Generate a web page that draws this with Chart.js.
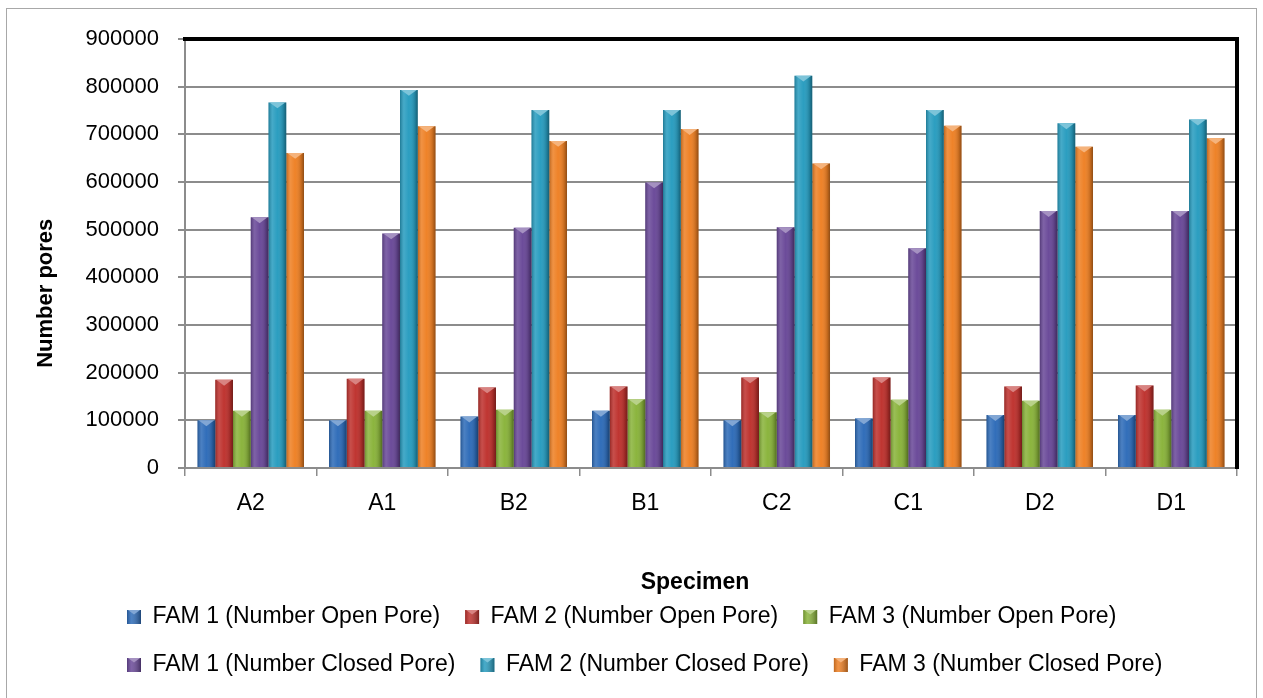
<!DOCTYPE html>
<html>
<head>
<meta charset="utf-8">
<script src="https://cdn.jsdelivr.net/npm/chart.js@4.4.1/dist/chart.umd.min.js"></script>
<style>
  html, body { margin: 0; padding: 0; background: #fff; }
  body { width: 1263px; height: 698px; position: relative; overflow: hidden; }
  #frame { position: absolute; left: 6px; top: 8px; width: 1251px; height: 700px;
           border: 1.5px solid #a8a8a8; box-sizing: border-box; }
  #chart { position: absolute; left: 0; top: 0; }
</style>
</head>
<body>
<div id="frame"></div>
<canvas id="chart" width="1263" height="698"></canvas>
<script>
// Specimens along the x axis
const specimens = ['A2', 'A1', 'B2', 'B1', 'C2', 'C1', 'D2', 'D1'];

// Pore counts per specimen
const fam1Open   = [100000, 100000, 108000, 120000, 100000, 104000, 111000, 111000];
const fam2Open   = [185000, 187000, 169000, 171000, 190000, 190000, 171000, 173000];
const fam3Open   = [120000, 120000, 122000, 144000, 117000, 143000, 141000, 122000];
const fam1Closed = [526000, 492000, 504000, 599000, 505000, 461000, 539000, 539000];
const fam2Closed = [767000, 793000, 751000, 751000, 823000, 751000, 723000, 731000];
const fam3Closed = [661000, 717000, 686000, 711000, 639000, 718000, 674000, 692000];

// Series names and colours
const seriesNames = [
  'FAM 1 (Number Open Pore)', 'FAM 2 (Number Open Pore)', 'FAM 3 (Number Open Pore)',
  'FAM 1 (Number Closed Pore)', 'FAM 2 (Number Closed Pore)', 'FAM 3 (Number Closed Pore)'
];
const seriesColors = ['#2d6bb8', '#be312d', '#89b33a', '#694898', '#279cbf', '#ee8024'];

// Value-axis ticks
const yTickValues = [0, 100000, 200000, 300000, 400000, 500000, 600000, 700000, 800000, 900000];

const seriesValues = [fam1Open, fam2Open, fam3Open, fam1Closed, fam2Closed, fam3Closed];

function lighten(hex, t) {
  const n = parseInt(hex.slice(1), 16);
  const r = (n >> 16) & 255, g = (n >> 8) & 255, b = n & 255;
  const m = c => Math.round(c + (255 - c) * t);
  return `rgb(${m(r)},${m(g)},${m(b)})`;
}

// Cylinder-like shading and a light bevel cap on every bar and legend swatch
const barShading = {
  id: 'barShading',
  afterDatasetsDraw(chart) {
    const ctx = chart.ctx;
    ctx.save();
    chart.data.datasets.forEach((ds, di) => {
      const meta = chart.getDatasetMeta(di);
      if (meta.hidden) return;
      meta.data.forEach(bar => {
        const { x, y, base, width } = bar.getProps(['x', 'y', 'base', 'width'], true);
        const left = x - width / 2;
        const h = base - y;
        const g = ctx.createLinearGradient(left, 0, left + width, 0);
        g.addColorStop(0, 'rgba(0,0,0,0.22)');
        g.addColorStop(0.22, 'rgba(255,255,255,0.14)');
        g.addColorStop(0.5, 'rgba(255,255,255,0.02)');
        g.addColorStop(0.85, 'rgba(0,0,0,0.18)');
        g.addColorStop(1, 'rgba(0,0,0,0.4)');
        ctx.fillStyle = g;
        ctx.fillRect(left, y, width, h);
        ctx.fillStyle = lighten(ds.backgroundColor, 0.4);
        ctx.beginPath();
        ctx.moveTo(left + 1, y);
        ctx.lineTo(left + width - 1, y);
        ctx.lineTo(x, y + width * 0.33);
        ctx.closePath();
        ctx.fill();
      });
    });
    ctx.restore();
  },
  afterDraw(chart) {
    const legend = chart.legend;
    if (!legend || !legend.legendHitBoxes) return;
    const ctx = chart.ctx;
    const bw = legend.options.labels.boxWidth;
    const bh = legend.options.labels.boxHeight;
    ctx.save();
    legend.legendHitBoxes.forEach((hb, i) => {
      const top = hb.top + (hb.height - bh) / 2;
      const g = ctx.createLinearGradient(hb.left, 0, hb.left + bw, 0);
      g.addColorStop(0, 'rgba(0,0,0,0.2)');
      g.addColorStop(0.3, 'rgba(255,255,255,0.15)');
      g.addColorStop(1, 'rgba(0,0,0,0.35)');
      ctx.fillStyle = g;
      ctx.fillRect(hb.left, top, bw, bh);
      ctx.fillStyle = lighten(seriesColors[i], 0.4);
      ctx.beginPath();
      ctx.moveTo(hb.left + 1, top);
      ctx.lineTo(hb.left + bw - 1, top);
      ctx.lineTo(hb.left + bw / 2, top + bw * 0.32);
      ctx.closePath();
      ctx.fill();
    });
    ctx.restore();
  }
};

Chart.defaults.font.family = "'Liberation Sans', Arial, sans-serif";
Chart.defaults.color = '#000';

new Chart(document.getElementById('chart'), {
  type: 'bar',
  data: {
    labels: specimens,
    datasets: seriesValues.map((values, i) => ({
      label: seriesNames[i],
      data: values,
      backgroundColor: seriesColors[i],
      borderWidth: 0,
      categoryPercentage: 0.81,
      barPercentage: 1
    }))
  },
  options: {
    responsive: false,
    animation: false,
    layout: { padding: { left: 102, right: 26, top: 39, bottom: 11.5 } },
    plugins: {
      tooltip: { enabled: false },
      legend: {
        position: 'bottom',
        align: 'start',
        labels: {
          boxWidth: 14,
          boxHeight: 14,
          padding: 25,
          font: { size: 23 },
          color: '#000'
        }
      }
    },
    scales: {
      x: {
        position: 'bottom',
        grid: { drawOnChartArea: false, drawTicks: true, tickLength: 8, color: '#8c8c8c', lineWidth: 1.5 },
        border: { color: '#8c8c8c', width: 2 },
        ticks: { font: { size: 23 }, padding: 14, color: '#000' },
        title: {
          display: true,
          text: 'Specimen' + ' '.repeat(5),
          font: { size: 23, weight: 'bold' },
          color: '#000',
          padding: { top: 37.6, bottom: -16.3 }
        }
      },
      y: {
        min: 0,
        max: 900000,
        afterBuildTicks: scale => { scale.ticks = yTickValues.map(v => ({ value: v })); },
        afterFit: scale => { scale.width = 83; },
        grid: { color: '#8c8c8c', lineWidth: 2, tickLength: 7 },
        border: { color: '#8c8c8c', width: 2 },
        // labels sit left of the narrow axis box, right-aligned against the tick marks
        ticks: { font: { size: 22 }, mirror: true, crossAlign: 'far', padding: -99.5, color: '#000',
                 callback: v => String(v) },
        title: {
          display: true,
          text: 'Number pores' + ' '.repeat(13),
          font: { size: 22, weight: 'bold' },
          color: '#000',
          padding: { top: -69.2, bottom: 0 }
        }
      },
      xTop: {
        type: 'category',
        labels: specimens,
        position: 'top',
        grid: { display: false, drawTicks: false },
        ticks: { display: false },
        border: { display: true, color: '#000', width: 4 }
      },
      yRight: {
        type: 'linear',
        position: 'right',
        min: 0,
        max: 900000,
        grid: { display: false, drawTicks: false },
        ticks: { display: false },
        border: { display: true, color: '#000', width: 4 }
      }
    }
  },
  plugins: [barShading]
});
</script>
</body>
</html>
